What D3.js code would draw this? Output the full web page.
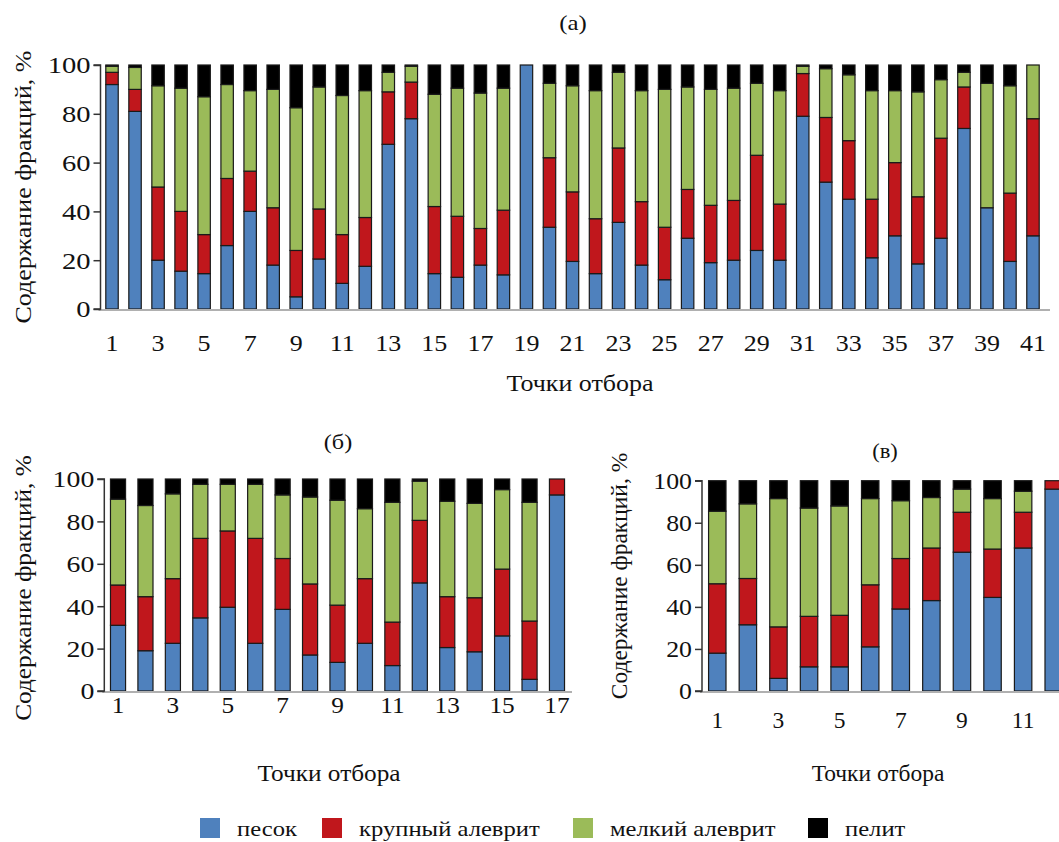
<!DOCTYPE html>
<html>
<head>
<meta charset="utf-8">
<script src="https://cdn.jsdelivr.net/npm/d3@7"></script>
<style>
  body { margin: 0; background: #fff; }
  text { font-family: "Liberation Serif", "Times New Roman", serif; fill: #111; }
</style>
</head>
<body>
<svg id="chart" width="1059" height="842"></svg>
<script>
// fractions, % : [песок, крупный алеврит, мелкий алеврит, пелит]
const fractions = ["песок", "крупный алеврит", "мелкий алеврит", "пелит"];
const colors = ["#4f81bd", "#c0171c", "#9bbb59", "#000000"];

const sandA   = [92, 81, 20, 15.5, 14.5, 26, 40, 18, 5, 20.5, 10.5, 17.5, 67.5, 78, 14.5, 13, 18, 14, 100, 33.5, 19.5, 14.5, 35.5, 18, 12, 29, 19, 20, 24, 20, 79, 52, 45, 21, 30, 18.5, 29, 74, 41.5, 19.5, 30];
const coarseA = [5, 9, 30, 24.5, 16, 27.5, 16.5, 23.5, 19, 20.5, 20, 20, 21.5, 15, 27.5, 25, 15, 26.5, 0, 28.5, 28.5, 22.5, 30.5, 26, 21.5, 20, 23.5, 24.5, 39, 23, 17.5, 26.5, 24, 24, 30, 27.5, 41, 17, 0, 28, 48];
const fineA   = [2.5, 9, 41.5, 50.5, 56.5, 38.5, 33, 48.5, 58.5, 50, 57, 52, 8, 6.5, 46, 52.5, 55.5, 50, 0, 30.5, 43.5, 52.5, 31, 45.5, 56.5, 42, 47.5, 46, 29.5, 46.5, 3, 20, 27, 44.5, 29.5, 43, 24, 6, 51, 44, 22];
const peliteA = [0.5, 1, 8.5, 9.5, 13, 8, 10.5, 10, 17.5, 9, 12.5, 10.5, 3, 0.5, 12, 9.5, 11.5, 9.5, 0, 7.5, 8.5, 10.5, 3, 10.5, 10, 9, 10, 9.5, 7.5, 10.5, 0.5, 1.5, 4, 10.5, 10.5, 11, 6, 3, 7.5, 8.5, 0];

const sandB   = [31, 19, 22.5, 34.5, 39.5, 22.5, 38.5, 17, 13.5, 22.5, 12, 51, 20.5, 18.5, 26, 5.5, 92.5];
const coarseB = [19, 25.5, 30.5, 37.5, 36, 49.5, 24, 33.5, 27, 30.5, 20.5, 29.5, 24, 25.5, 31.5, 27.5, 7.5];
const fineB   = [40.5, 43, 40, 25.5, 22, 25.5, 30, 41, 49.5, 33, 56.5, 18.5, 45, 44.5, 37.5, 56, 0];
const peliteB = [9.5, 12.5, 7, 2.5, 2.5, 2.5, 7.5, 8.5, 10, 14, 11, 1, 10.5, 11.5, 5, 11, 0];

const sandC   = [18, 31.5, 6, 11.5, 11.5, 21, 39, 43, 66, 44.5, 68, 96];
const coarseC = [33, 22, 24.5, 24, 24.5, 29.5, 24, 25, 19, 23, 17, 4];
const fineC   = [34.5, 35.5, 61, 51.5, 52, 41, 27.5, 24, 11, 24, 10, 0];
const peliteC = [14.5, 11, 8.5, 13, 12, 8.5, 9.5, 8, 4, 8.5, 5, 0];

const yTicks = [0, 20, 40, 60, 80, 100];
const yTitle = "Содержание фракций, %";
const xTitle = "Точки отбора";

const svg = d3.select("#chart");

// text is drawn a bit wider than plain Liberation Serif, like the source figure
function label(g, x, y, txt, size, sx, anchor) {
  return g.append("text")
    .attr("transform", `translate(${x},${y}) scale(${sx},1)`)
    .attr("text-anchor", anchor || "middle")
    .style("font-size", size + "px")
    .text(txt);
}

function drawPanel(cfg) {
  const n = cfg.series[0].length;
  const points = d3.range(1, n + 1);
  const rows = points.map((p, i) => {
    const r = { point: p };
    fractions.forEach((f, k) => { r[f] = cfg.series[k][i]; });
    return r;
  });
  const stacked = d3.stack().keys(fractions)(rows);

  const x = d3.scaleBand().domain(points).range([cfg.x0, cfg.x1]).paddingInner(cfg.pad).paddingOuter(cfg.pad / 2);
  const y = d3.scaleLinear().domain([0, 100]).range([cfg.yBottom, cfg.yTop]);

  const g = svg.append("g");

  g.selectAll("g.layer")
    .data(stacked)
    .enter()
    .append("g")
    .attr("fill", (d, i) => colors[i])
    .selectAll("rect")
    .data(d => d)
    .enter()
    .append("rect")
    .attr("x", d => x(d.data.point))
    .attr("width", x.bandwidth())
    .attr("y", d => y(d[1]))
    .attr("height", d => y(d[0]) - y(d[1]))
    .attr("stroke", "#1a1a1a")
    .attr("stroke-width", d => (d[1] - d[0] > 0 ? 1.2 : 0));

  // x axis line
  g.append("line")
    .attr("x1", cfg.x0 - 2).attr("x2", cfg.xLineEnd)
    .attr("y1", cfg.yBottom + 1).attr("y2", cfg.yBottom + 1)
    .attr("stroke", "#b0b0b0").attr("stroke-width", 2);

  // y axis
  const yAxis = d3.axisLeft(y).tickValues(yTicks).tickSize(7).tickPadding(0);
  const ya = g.append("g").attr("transform", `translate(${cfg.x0},0)`).call(yAxis);
  ya.attr("font-family", null).attr("font-size", null);
  ya.select(".domain").attr("stroke", "#333").attr("stroke-width", 1.5).attr("d", `M-7,${cfg.yTop}H0V${cfg.yBottom}H-7`);
  ya.selectAll(".tick line").attr("stroke", "#333").attr("stroke-width", 1.5);
  ya.selectAll(".tick text")
    .attr("x", null).attr("dy", "0.34em")
    .attr("transform", `translate(-10,0) scale(${cfg.sx * 1.1},1)`)
    .style("font-size", cfg.fs + "px")
    .attr("fill", "#111");

  // x tick labels (odd points)
  points.filter(p => p % 2 === 1).forEach(p => {
    label(g, x(p) + x.bandwidth() / 2, cfg.xLabelY, p, cfg.fs, cfg.sx);
  });

  label(g, cfg.xTitleX, cfg.xTitleY, xTitle, cfg.fs, cfg.sx);

  g.append("text")
    .attr("transform", `translate(${cfg.yTitleX},${cfg.yTitleY}) rotate(-90) scale(${cfg.sx},1)`)
    .attr("text-anchor", "middle")
    .style("font-size", cfg.fs + "px")
    .text(yTitle);

  label(g, cfg.labelX, cfg.labelY, cfg.label, cfg.fs - 1, cfg.sx);
}

drawPanel({
  series: [sandA, coarseA, fineA, peliteA],
  x0: 100.5, x1: 1044.5, pad: 0.46, xLineEnd: 1050,
  yTop: 65, yBottom: 309,
  fs: 23, sx: 1.13,
  xLabelY: 351, xTitleX: 580, xTitleY: 391,
  yTitleX: 31, yTitleY: 187,
  label: "(а)", labelX: 573, labelY: 30
});

drawPanel({
  series: [sandB, coarseB, fineB, peliteB],
  x0: 104.3, x1: 570.7, pad: 0.45, xLineEnd: 572,
  yTop: 479, yBottom: 691,
  fs: 23, sx: 1.1,
  xLabelY: 713, xTitleX: 329, xTitleY: 781,
  yTitleX: 31, yTitleY: 588,
  label: "(б)", labelX: 338, labelY: 449
});

drawPanel({
  series: [sandC, coarseC, fineC, peliteC],
  x0: 702, x1: 1069, pad: 0.43, xLineEnd: 1059,
  yTop: 480.7, yBottom: 691,
  fs: 23, sx: 1.02,
  xLabelY: 728, xTitleX: 878, xTitleY: 781,
  yTitleX: 627, yTitleY: 576,
  label: "(в)", labelX: 885, labelY: 458
});

// legend
const legendX = [200, 322, 573, 808];
const lg = svg.append("g");
fractions.forEach((f, i) => {
  lg.append("rect")
    .attr("x", legendX[i]).attr("y", 818)
    .attr("width", 20).attr("height", 20)
    .attr("fill", colors[i]);
  label(lg, legendX[i] + 37, 836, f, 22, 1.12, "start");
});
</script>
</body>
</html>
